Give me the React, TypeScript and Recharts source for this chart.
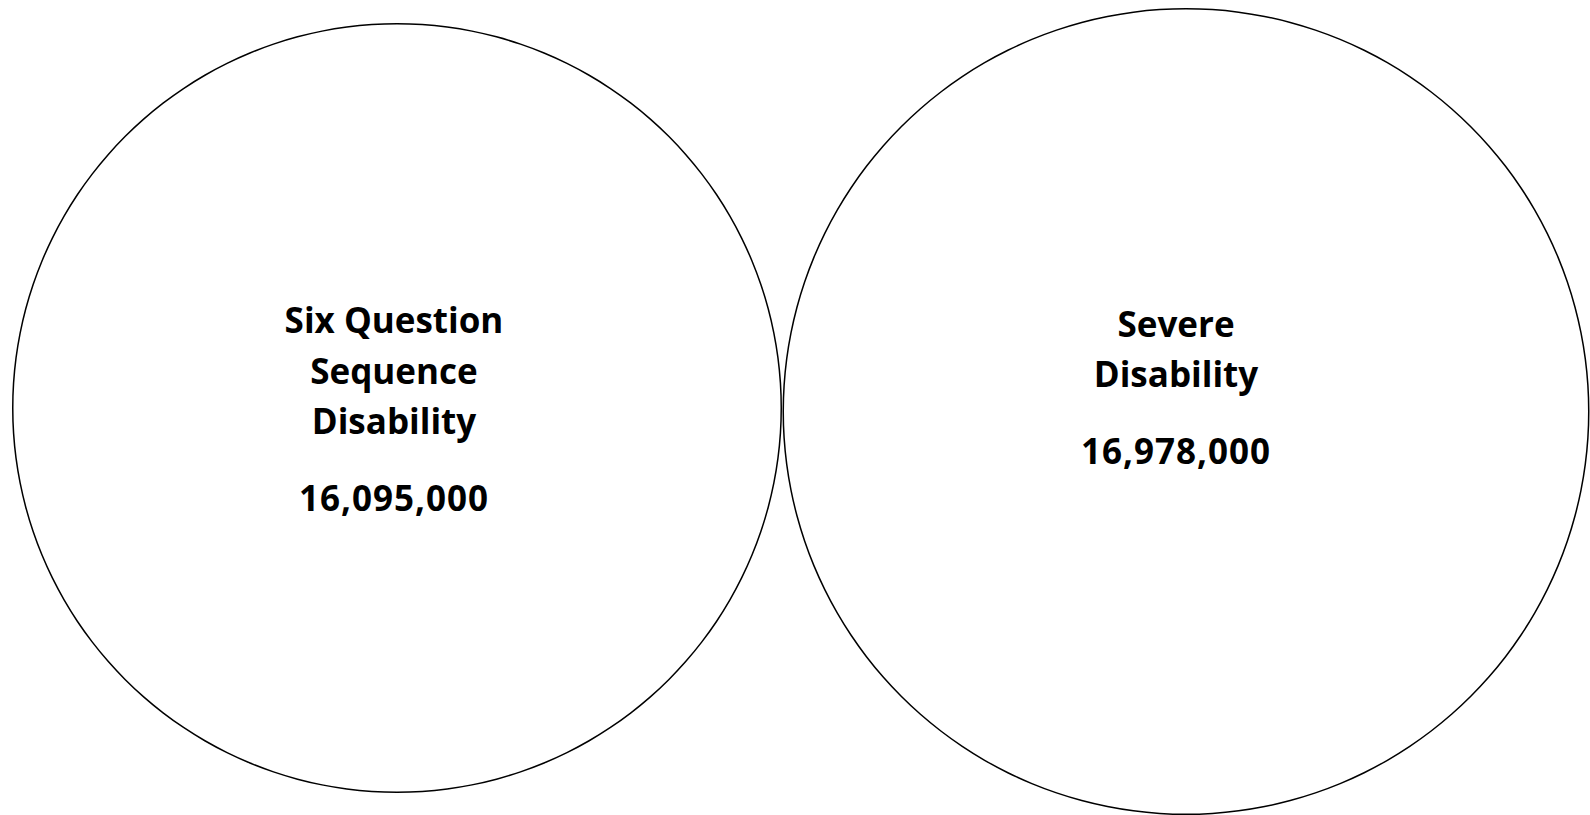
import { PieChart, Pie } from "recharts";

// the two populations, one circle each
const groupNames = ["Six Question Sequence Disability", "Severe Disability"];
const groupTitleLines = [["Six Question", "Sequence", "Disability"], ["Severe", "Disability"]];
const groupCounts = [16095000, 16978000];

const fmt = (n: number) => n.toLocaleString("en-US");

const FONT = "'Open Sans', Lato, sans-serif";
const FS = 35;
const LINE = 50.5;

const makeLabel = (lines: string[], count: number, dx: number) => (props: any) => {
  const { cx, cy, index } = props;
  if (index !== 0) return null;
  const top = cy - 75;
  return (
    <g>
      {lines.map((l, i) => (
        <text
          key={l}
          x={cx + dx}
          y={top + i * LINE}
          textAnchor="middle"
          fontFamily={FONT}
          fontWeight={700}
          fontSize={FS}
          fill="#000"
        >
          {l}
        </text>
      ))}
      <text
        x={cx + dx}
        y={top + (lines.length - 1) * LINE + 77}
        textAnchor="middle"
        fontFamily={FONT}
        fontWeight={700}
        fontSize={FS}
        letterSpacing={1}
        fill="#000"
      >
        {fmt(count)}
      </text>
    </g>
  );
};

export default function App() {
  const left = [{ name: groupNames[0], value: groupCounts[0] }];
  const right = [{ name: groupNames[1], value: groupCounts[1] }];
  return (
    <div style={{ position: "absolute", left: 0, top: 0, background: "#fff" }}>
      <PieChart width={1590} height={815} margin={{ top: 0, right: 0, bottom: 0, left: 0 }}>
        <Pie
          data={left}
          dataKey="value"
          cx={397}
          cy={408}
          innerRadius={383.5}
          outerRadius={385}
          fill="#000"
          stroke="none"
          startAngle={90}
          endAngle={-270}
          labelLine={false}
          label={makeLabel(groupTitleLines[0], groupCounts[0], -3)}
          isAnimationActive={false}
        />
        <Pie
          data={right}
          dataKey="value"
          cx={1186}
          cy={411.5}
          innerRadius={402}
          outerRadius={403.5}
          fill="#000"
          stroke="none"
          startAngle={90}
          endAngle={-270}
          labelLine={false}
          label={makeLabel(groupTitleLines[1], groupCounts[1], -10)}
          isAnimationActive={false}
        />
      </PieChart>
    </div>
  );
}
